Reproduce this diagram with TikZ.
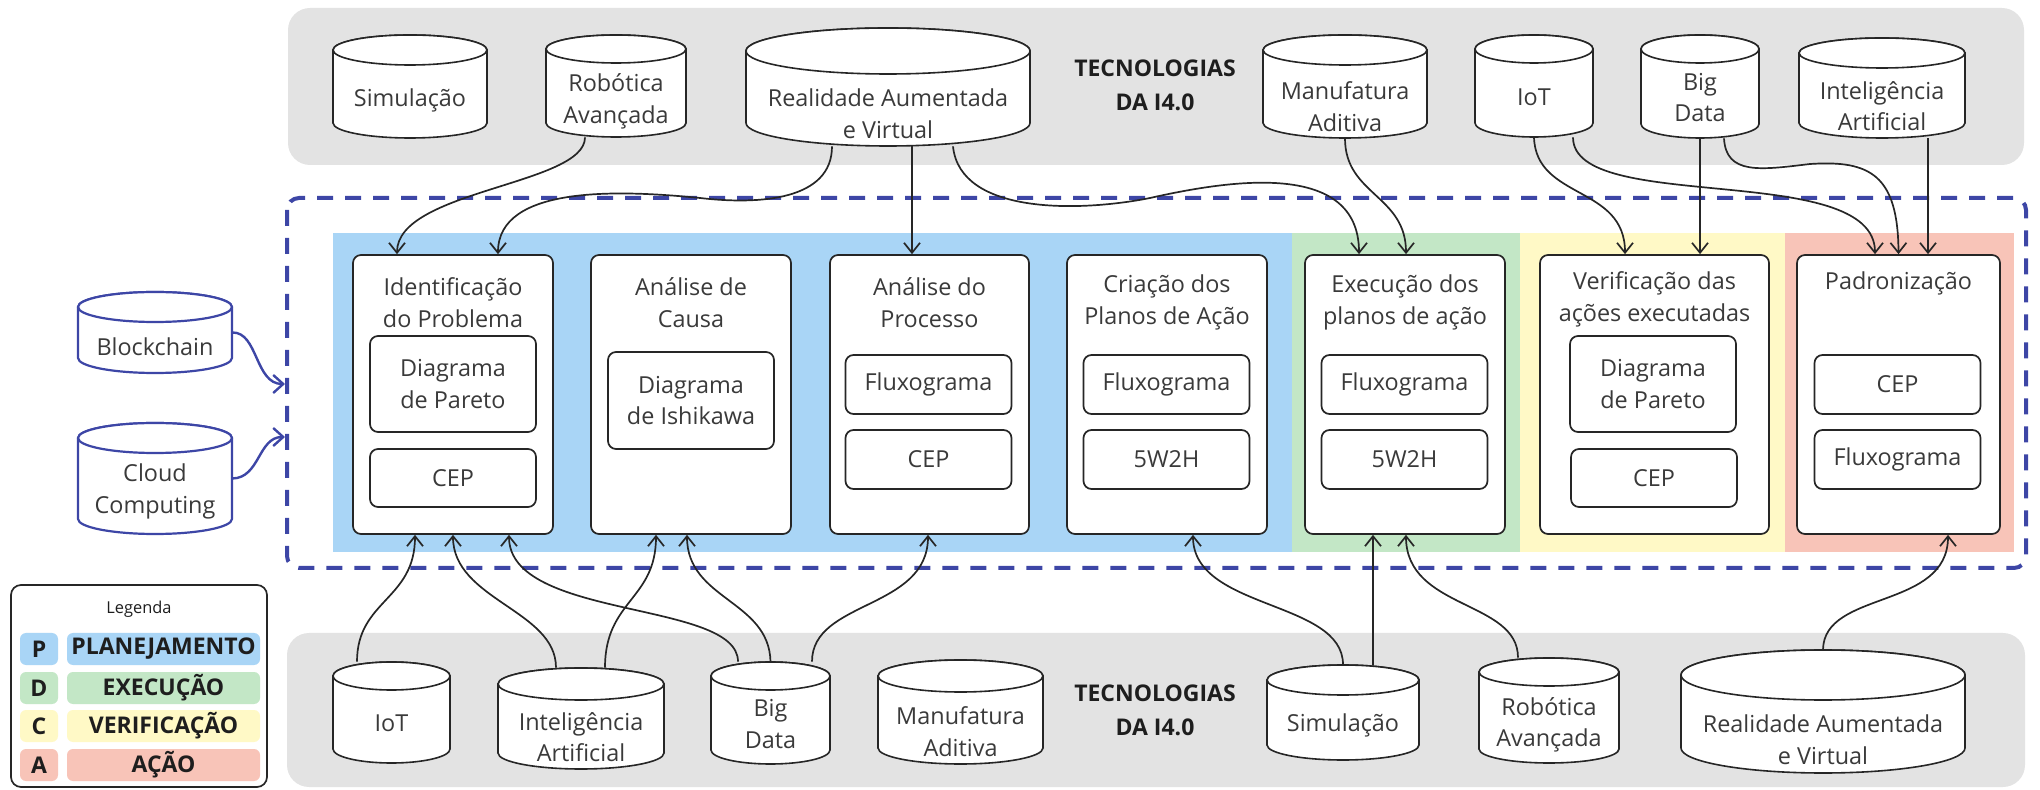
\documentclass[tikz,border=0pt]{standalone}
\usepackage{fontspec}
\setmainfont{Open Sans}
\usetikzlibrary{arrows.meta}
\pgfdeclarelayer{back}
\pgfdeclarelayer{links}
\pgfsetlayers{back,links,main}

\definecolor{bandgray}{HTML}{E3E3E3}
\definecolor{planP}{HTML}{A9D5F6}
\definecolor{execD}{HTML}{C3E7C6}
\definecolor{verC}{HTML}{FFF9C6}
\definecolor{actA}{HTML}{F8C4B8}
\definecolor{frameblue}{HTML}{3D46A6}
\definecolor{edge}{HTML}{262626}
\definecolor{ink}{HTML}{3A3A3A}
\definecolor{ink2}{HTML}{1E1E1E}

% cylinder: name, cx, top, bottom, half width, cap radius, text, text y, style
\newcommand\techcyl[9]{%
  \filldraw[#9] (#2-#5,#3+#6) -- (#2-#5,#4-#6)
    arc[start angle=180,end angle=0,x radius=#5,y radius=#6] -- (#2+#5,#3+#6)
    arc[start angle=0,end angle=-180,x radius=#5,y radius=#6] -- cycle;
  \draw[#9] (#2,#3+#6) ellipse[x radius=#5,y radius=#6];
  \node[inner sep=0pt,minimum width=#5pt,minimum height={(#4-#3)*0.5pt}] (#1) at (#2,{(#3+#4)/2}) {};
  \node[txt] (#1-text) at (#2,#8) {#7};
}

\begin{document}
\begin{tikzpicture}[x=0.5pt,y=-0.5pt,
  txt/.style={font=\fontsize{11.7}{15.8}\selectfont, text=ink, align=center, inner sep=0pt},
  heavytxt/.style={font=\fontsize{11.5}{17}\selectfont\bfseries, text=ink2, align=center, inner sep=0pt},
  pbox/.style={draw=edge, line width=0.85pt, fill=white, rounded corners=4pt, inner sep=0pt, minimum height=139.5pt},
  sbox/.style={txt, draw=edge, line width=0.85pt, fill=white, rounded corners=4pt, minimum width=83pt},
  gcyl/.style={draw=edge, fill=white, line width=0.8pt},
  bcyl/.style={draw=frameblue, fill=white, line width=1.1pt},
  conn/.style={draw=edge, line width=0.85pt, -{Straight Barb[length=5pt,width=8pt]}},
  bconn/.style={draw=frameblue, line width=1.2pt, -{Straight Barb[length=5pt,width=9pt]}},
  legl/.style={heavytxt, rounded corners=3pt, minimum height=16pt, minimum width=19pt},
  legt/.style={heavytxt, rounded corners=3pt, minimum height=16pt, minimum width=96.5pt}]

\useasboundingbox (0,0) rectangle (2040,790);

% ---- backgrounds: technology bands, PDCA phases, dashed frame
\begin{pgfonlayer}{back}
  \fill[bandgray, rounded corners=11pt] (288,8) rectangle (2024,165);
  \fill[bandgray, rounded corners=11pt] (287,633) rectangle (2025,787);
  \fill[planP] (333,233) rectangle (1292,552);
  \fill[execD] (1292,233) rectangle (1520,552);
  \fill[verC] (1520,233) rectangle (1785,552);
  \fill[actA] (1785,233) rectangle (2014,552);
  \draw[frameblue, line width=2pt, dash pattern=on 8pt off 6pt, rounded corners=6pt]
    (287,198) rectangle (2026,568);
\end{pgfonlayer}

% ---- process steps
\node[pbox, minimum width=100pt] (p1) at (453,394.5) {};
\node[txt] (p1-title) at (453,302.5) {Identificação\\do Problema};
\node[sbox, minimum height=48pt] (p1a) at (453,384) {Diagrama\\de Pareto};
\node[sbox, minimum height=29pt] (p1b) at (453,478) {CEP};

\node[pbox, minimum width=100pt] (p2) at (691,394.5) {};
\node[txt] (p2-title) at (691,302.5) {Análise de\\Causa};
\node[sbox, minimum height=48.5pt] (p2a) at (691,400.5) {Diagrama\\de Ishikawa};

\node[pbox, minimum width=99.5pt] (p3) at (929.5,394.5) {};
\node[txt] (p3-title) at (929.5,302.5) {Análise do\\Processo};
\node[sbox, minimum height=29.5pt] (p3a) at (928.5,384.5) {Fluxograma};
\node[sbox, minimum height=29.5pt] (p3b) at (928.5,459.5) {CEP};

\node[pbox, minimum width=100pt] (p4) at (1167,394.5) {};
\node[txt] (p4-title) at (1167,302.5) {Criação dos\\Planos de Ação};
\node[sbox, minimum height=29.5pt] (p4a) at (1166.5,384.5) {Fluxograma};
\node[sbox, minimum height=29.5pt] (p4b) at (1166.5,459.5) {5W2H};

\node[pbox, minimum width=100pt] (p5) at (1405,394.5) {};
\node[txt] (p5-title) at (1405,302.5) {Execução dos\\planos de ação};
\node[sbox, minimum height=29.5pt] (p5a) at (1404.5,384.5) {Fluxograma};
\node[sbox, minimum height=29.5pt] (p5b) at (1404.5,459.5) {5W2H};

\node[pbox, minimum width=114.5pt] (p6) at (1654.5,394.5) {};
\node[txt] (p6-title) at (1654.5,299.5) {Verificação das\\ações executadas};
\node[sbox, minimum height=48pt] (p6a) at (1653,384) {Diagrama\\de Pareto};
\node[sbox, minimum height=29pt] (p6b) at (1654,478) {CEP};

\node[pbox, minimum width=101.5pt] (p7) at (1898.5,394.5) {};
\node[txt] (p7-title) at (1898.5,283) {Padronização};
\node[sbox, minimum height=29.5pt] (p7a) at (1897.5,384.5) {CEP};
\node[sbox, minimum height=29.5pt] (p7b) at (1897.5,459.5) {Fluxograma};

% ---- Industry 4.0 technologies, upper band
\techcyl{tSim}{410}{35}{138}{77}{15}{Simulação}{100}{gcyl}
\techcyl{tRob}{616}{35}{137}{70}{14}{Robótica\\Avançada}{101.5}{gcyl}
\techcyl{tReal}{888}{28}{146}{142}{23}{Realidade Aumentada\\e Virtual}{113.5}{gcyl}
\node[heavytxt] (tTitle) at (1155,85) {TECNOLOGIAS\\DA I4.0};
\techcyl{tMan}{1345}{35}{138}{82}{15}{Manufatura\\Aditiva}{106.5}{gcyl}
\techcyl{tIoT}{1534}{35}{137}{59}{14}{IoT}{97}{gcyl}
\techcyl{tBig}{1700}{35}{138}{59}{14}{Big\\Data}{97.5}{gcyl}
\techcyl{tIA}{1882}{38}{138}{83}{15}{Inteligência\\Artificial}{106}{gcyl}

% ---- Industry 4.0 technologies, lower band
\techcyl{bIoT}{391.5}{662}{763}{58.5}{14}{IoT}{723}{gcyl}
\techcyl{bIA}{581}{668}{769}{83}{16}{Inteligência\\Artificial}{737}{gcyl}
\techcyl{bBig}{770.5}{662}{764}{59.5}{14}{Big\\Data}{724}{gcyl}
\techcyl{bMan}{960.5}{660}{764}{82.5}{16}{Manufatura\\Aditiva}{731.5}{gcyl}
\node[heavytxt] (bTitle) at (1155,710) {TECNOLOGIAS\\DA I4.0};
\techcyl{bSim}{1343}{665}{760}{76}{15}{Simulação}{725}{gcyl}
\techcyl{bRob}{1549}{658}{763}{70}{14}{Robótica\\Avançada}{725}{gcyl}
\techcyl{bReal}{1823}{650}{773}{142}{25}{Realidade Aumentada\\e Virtual}{739.5}{gcyl}

% ---- technologies acting on the whole cycle
\techcyl{cBlock}{155}{292}{373}{77}{15}{Blockchain}{347}{bcyl}
\techcyl{cCloud}{155}{423}{534}{77}{15}{Cloud\\Computing}{491.5}{bcyl}
\coordinate (inBlock) at (285,384);
\coordinate (inCloud) at (285,437);

% ---- legend
\draw[edge, line width=0.85pt, fill=white, rounded corners=5pt] (11,585) rectangle (267,787);
\node[font=\fontsize{8.2}{10}\selectfont, text=ink2, inner sep=0pt] (legTitle) at (139,609) {Legenda};
\node[legl, fill=planP] (lP) at (39,649) {P};
\node[legt, fill=planP] (lPt) at (163.5,649) {PLANEJAMENTO};
\node[legl, fill=execD] (lD) at (39,688) {D};
\node[legt, fill=execD] (lDt) at (163.5,688) {EXECUÇÃO};
\node[legl, fill=verC] (lC) at (39,726) {C};
\node[legt, fill=verC] (lCt) at (163.5,726) {VERIFICAÇÃO};
\node[legl, fill=actA] (lA) at (39,765) {A};
\node[legt, fill=actA] (lAt) at (163.5,765) {AÇÃO};

% ---- connectors
\begin{pgfonlayer}{links}
  % upper band into the steps
  \draw[conn] ([xshift=-15.5pt]tRob.south) .. controls (585,185) and (397,190) .. ([xshift=-28pt]p1.north);
  \draw[conn] ([xshift=-28pt]tReal.south) .. controls (832,200) and (760,205) .. (700,198)
              .. controls (620,190) and (498,185) .. ([xshift=22.5pt]p1.north);
  \draw[conn] ([xshift=12pt]tReal.south) -- ([xshift=-8.75pt]p3.north);
  \draw[conn] ([xshift=32.5pt]tReal.south) .. controls (960,215) and (1080,212) .. (1150,198)
              .. controls (1230,180) and (1359,160) .. ([xshift=-23pt]p5.north);
  \draw[conn] (tMan.south) .. controls (1345,195) and (1406,195) .. ([xshift=0.5pt]p5.north);
  \draw[conn] (tIoT.south) .. controls (1536,200) and (1625,185) .. ([xshift=-14.75pt]p6.north);
  \draw[conn] ([xshift=19.5pt]tIoT.south) .. controls (1573,215) and (1875,160) .. ([xshift=-11.75pt]p7.north);
  \draw[conn] (tBig.south) -- ([xshift=22.75pt]p6.north);
  \draw[conn] ([xshift=12pt]tBig.south) .. controls (1726,175) and (1760,170) .. (1810,164)
              .. controls (1870,160) and (1898,175) .. (p7.north);
  \draw[conn] ([xshift=23pt]tIA.south) -- ([xshift=14.75pt]p7.north);
  % lower band into the steps
  \draw[conn] ([xshift=-17.25pt]bIoT.north) .. controls (357,600) and (415,600) .. ([xshift=-19pt]p1.south);
  \draw[conn] ([xshift=-12.5pt]bIA.north) .. controls (556,610) and (453,600) .. (p1.south);
  \draw[conn] ([xshift=-16.25pt]bBig.north) .. controls (738,600) and (509,620) .. ([xshift=28pt]p1.south);
  \draw[conn] ([xshift=12pt]bIA.north) .. controls (605,600) and (656,600) .. ([xshift=-17.5pt]p2.south);
  \draw[conn] (bBig.north) .. controls (769,600) and (687,600) .. ([xshift=-2pt]p2.south);
  \draw[conn] ([xshift=20.75pt]bBig.north) .. controls (812,600) and (928,610) .. ([xshift=-0.75pt]p3.south);
  \draw[conn] (bSim.north) .. controls (1343,600) and (1193,610) .. ([xshift=13pt]p4.south);
  \draw[conn] ([xshift=15pt]bSim.north) -- ([xshift=-16pt]p5.south);
  \draw[conn] ([xshift=-15.5pt]bRob.north) .. controls (1518,600) and (1406,610) .. ([xshift=0.5pt]p5.south);
  \draw[conn] (bReal.north) .. controls (1824,590) and (1948,610) .. ([xshift=24.75pt]p7.south);
  % cross-cutting technologies
  \draw[bconn] (cBlock.east) .. controls (258,332) and (255,384) .. (inBlock);
  \draw[bconn] (cCloud.east) .. controls (260,478) and (258,437) .. (inCloud);
\end{pgfonlayer}

\end{tikzpicture}
\end{document}
